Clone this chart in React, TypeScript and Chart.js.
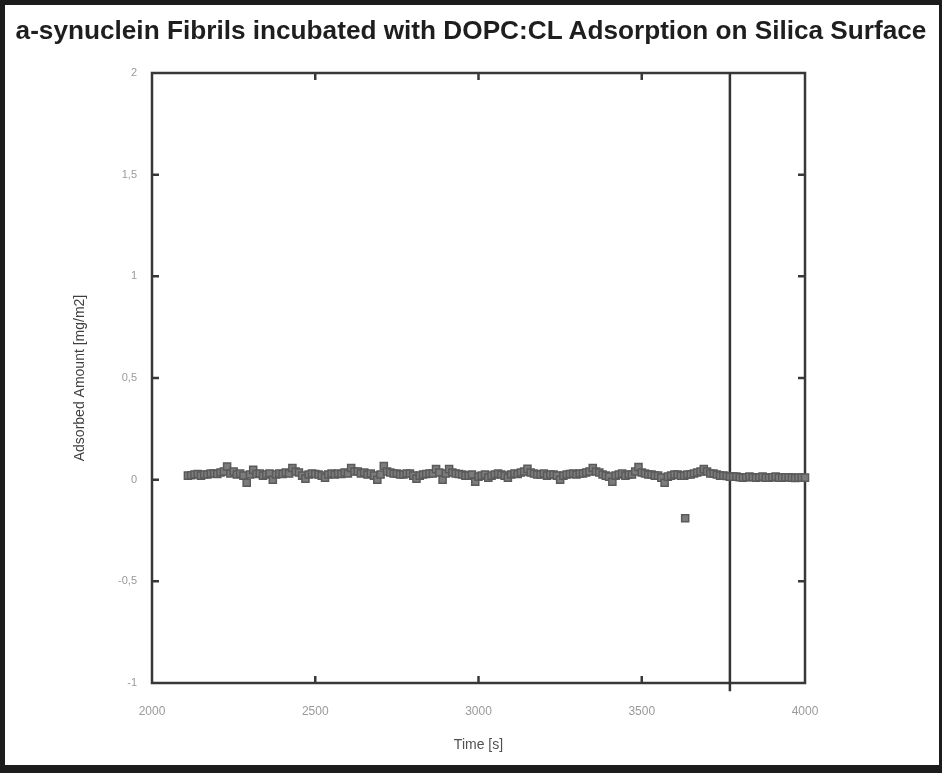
import React, { useEffect, useRef } from 'react';
import { Chart, registerables } from 'chart.js';

Chart.register(...registerables);

const FONT = '"Liberation Sans", Arial, Helvetica, sans-serif';

const chartTitle = 'a-synuclein Fibrils incubated with DOPC:CL Adsorption on Silica Surface';
const xAxisTitle = 'Time [s]';
const yAxisTitle = 'Adsorbed Amount [mg/m2]';

const xTickValues = [2000, 2500, 3000, 3500, 4000];
const xTickLabels = ['2000', '2500', '3000', '3500', '4000'];
const yTickValues = [-1, -0.5, 0, 0.5, 1, 1.5, 2];
const yTickLabels = ['-1', '-0,5', '0', '0,5', '1', '1,5', '2'];

const times = [
  2110, 2120, 2130, 2140, 2150, 2160, 2170, 2180, 2190, 2200,
  2210, 2220, 2230, 2240, 2250, 2260, 2270, 2280, 2290, 2300,
  2310, 2320, 2330, 2340, 2350, 2360, 2370, 2380, 2390, 2400,
  2410, 2420, 2430, 2440, 2450, 2460, 2470, 2480, 2490, 2500,
  2510, 2520, 2530, 2540, 2550, 2560, 2570, 2580, 2590, 2600,
  2610, 2620, 2630, 2640, 2650, 2660, 2670, 2680, 2690, 2700,
  2710, 2720, 2730, 2740, 2750, 2760, 2770, 2780, 2790, 2800,
  2810, 2820, 2830, 2840, 2850, 2860, 2870, 2880, 2890, 2900,
  2910, 2920, 2930, 2940, 2950, 2960, 2970, 2980, 2990, 3000,
  3010, 3020, 3030, 3040, 3050, 3060, 3070, 3080, 3090, 3100,
  3110, 3120, 3130, 3140, 3150, 3160, 3170, 3180, 3190, 3200,
  3210, 3220, 3230, 3240, 3250, 3260, 3270, 3280, 3290, 3300,
  3310, 3320, 3330, 3340, 3350, 3360, 3370, 3380, 3390, 3400,
  3410, 3420, 3430, 3440, 3450, 3460, 3470, 3480, 3490, 3500,
  3510, 3520, 3530, 3540, 3550, 3560, 3570, 3580, 3590, 3600,
  3610, 3620, 3630, 3640, 3650, 3660, 3670, 3680, 3690, 3700,
  3710, 3720, 3730, 3740, 3750, 3760, 3770, 3780, 3790, 3800,
  3810, 3820, 3830, 3840, 3850, 3860, 3870, 3880, 3890, 3900,
  3910, 3920, 3930, 3940, 3950, 3960, 3970, 3980, 3990, 4000,
  3633,
];

const adsorbed = [
  0.02, 0.022, 0.025, 0.028, 0.02, 0.025, 0.025, 0.03, 0.03, 0.028,
  0.035, 0.04, 0.065, 0.03, 0.04, 0.025, 0.03, 0.02, -0.015, 0.025,
  0.048, 0.028, 0.03, 0.02, 0.025, 0.03, 0.0, 0.025, 0.03, 0.028,
  0.035, 0.03, 0.057, 0.04, 0.035, 0.02, 0.005, 0.025, 0.03, 0.028,
  0.025, 0.02, 0.01, 0.025, 0.03, 0.025, 0.03, 0.028, 0.035, 0.03,
  0.057, 0.04, 0.04, 0.03, 0.035, 0.025, 0.03, 0.02, 0.0, 0.025,
  0.067, 0.04, 0.035, 0.03, 0.03, 0.025, 0.025, 0.03, 0.03, 0.02,
  0.005, 0.02, 0.025, 0.028, 0.03, 0.03, 0.052, 0.035, 0.0, 0.03,
  0.052, 0.035, 0.03, 0.028, 0.025, 0.02, 0.02, 0.025, -0.01, 0.015,
  0.02, 0.025, 0.01, 0.02, 0.025, 0.03, 0.025, 0.02, 0.01, 0.025,
  0.03, 0.028, 0.035, 0.04, 0.053, 0.035, 0.03, 0.025, 0.025, 0.03,
  0.02, 0.025, 0.025, 0.02, 0.0, 0.02, 0.025, 0.028, 0.03, 0.025,
  0.03, 0.03, 0.035, 0.04, 0.057, 0.04, 0.035, 0.025, 0.02, 0.015,
  -0.01, 0.02, 0.025, 0.03, 0.02, 0.025, 0.025, 0.04, 0.062, 0.035,
  0.03, 0.025, 0.025, 0.02, 0.02, 0.01, -0.015, 0.015, 0.02, 0.025,
  0.025, 0.02, 0.02, 0.025, 0.025, 0.03, 0.035, 0.04, 0.052, 0.04,
  0.03, 0.03, 0.025, 0.02, 0.02, 0.018, 0.015, 0.015, 0.015, 0.012,
  0.01, 0.012, 0.015, 0.012, 0.01, 0.012, 0.015, 0.01, 0.01, 0.012,
  0.015, 0.01, 0.01, 0.012, 0.012, 0.01, 0.008, 0.01, 0.01, 0.01,
  -0.19,
];

const markerTime = 3770;
const markerSpan = [-1.04, 2];

const framePlugin = {
  id: 'frameTicks',
  beforeDatasetsDraw(chart: any) {
    const { ctx, chartArea: a, scales } = chart;
    const L = 7;
    ctx.save();
    ctx.strokeStyle = '#383838';
    ctx.lineWidth = 2.5;
    ctx.lineCap = 'butt';
    ctx.strokeRect(a.left, a.top, a.right - a.left, a.bottom - a.top);
    ctx.beginPath();
    xTickValues.forEach((v) => {
      const px = scales.x.getPixelForValue(v);
      if (px > a.left + 2 && px < a.right - 2) {
        ctx.moveTo(px, a.bottom);
        ctx.lineTo(px, a.bottom - L);
        ctx.moveTo(px, a.top);
        ctx.lineTo(px, a.top + L);
      }
    });
    yTickValues.forEach((v) => {
      const py = scales.y.getPixelForValue(v);
      if (py > a.top + 2 && py < a.bottom - 2) {
        ctx.moveTo(a.left, py);
        ctx.lineTo(a.left + L, py);
        ctx.moveTo(a.right, py);
        ctx.lineTo(a.right - L, py);
      }
    });
    ctx.stroke();
    ctx.restore();
  },
};

export default function App() {
  const canvasRef = useRef<HTMLCanvasElement | null>(null);

  useEffect(() => {
    const canvas = canvasRef.current;
    if (!canvas) return;
    const points = times.map((t, i) => ({ x: t, y: adsorbed[i] }));
    const chart = new Chart(canvas, {
      type: 'scatter',
      data: {
        datasets: [
          {
            label: 'Adsorbed amount',
            data: points,
            pointStyle: 'rect',
            pointRadius: 5,
            pointBorderWidth: 1.5,
            pointBackgroundColor: '#7c7c7c',
            pointBorderColor: '#5a5a5a',
            showLine: false,
            clip: false,
          } as any,
          {
            type: 'line',
            label: 'marker',
            data: markerSpan.map((y) => ({ x: markerTime, y })),
            borderColor: '#333333',
            borderWidth: 2.5,
            pointRadius: 0,
            showLine: true,
            fill: false,
            clip: false,
          } as any,
        ],
      },
      options: {
        responsive: false,
        animation: false,
        events: [],
        layout: { padding: { top: 73, right: 137, bottom: 0, left: 0 } },
        plugins: {
          legend: { display: false },
          tooltip: { enabled: false },
          title: { display: false },
        },
        scales: {
          x: {
            type: 'linear',
            min: 2000,
            max: 4000,
            afterBuildTicks: (scale: any) => {
              scale.ticks = xTickValues.map((v) => ({ value: v }));
            },
            afterFit: (scale: any) => {
              scale.height = 90;
            },
            grid: { display: false, drawTicks: false },
            border: { display: false },
            ticks: {
              autoSkip: false,
              maxRotation: 0,
              padding: 21,
              color: '#9a9a9a',
              font: { family: FONT, size: 12 },
              callback: (value: any) => xTickLabels[xTickValues.indexOf(Number(value))],
            },
            title: {
              display: true,
              text: xAxisTitle,
              color: '#505050',
              font: { family: FONT, size: 14 },
              padding: { top: 0, bottom: 19 },
            },
          },
          y: {
            type: 'linear',
            min: -1,
            max: 2,
            afterBuildTicks: (scale: any) => {
              scale.ticks = yTickValues.map((v) => ({ value: v }));
            },
            afterFit: (scale: any) => {
              scale.width = 152;
            },
            grid: { display: false, drawTicks: false },
            border: { display: false },
            ticks: {
              autoSkip: false,
              padding: 15,
              color: '#9a9a9a',
              font: { family: FONT, size: 11 },
              callback: (value: any) => yTickLabels[yTickValues.indexOf(Number(value))],
            },
            title: {
              display: true,
              text: yAxisTitle,
              color: '#404040',
              font: { family: FONT, size: 14 },
              padding: { top: 72, bottom: 0 },
            },
          },
        },
      } as any,
      plugins: [framePlugin],
    });
    return () => chart.destroy();
  }, []);

  return (
    <div
      style={{
        position: 'fixed',
        left: 0,
        top: 0,
        width: 942,
        height: 773,
        background: '#ffffff',
        overflow: 'hidden',
      }}
    >
      <canvas
        ref={canvasRef}
        width={942}
        height={773}
        style={{ position: 'absolute', left: 0, top: 0, width: 942, height: 773 }}
      />
      <div
        style={{
          position: 'absolute',
          left: 0,
          top: 15,
          width: 942,
          textAlign: 'center',
          fontFamily: FONT,
          fontWeight: 'bold',
          fontSize: 26.2,
          lineHeight: '30px',
          color: '#1e1e1e',
          whiteSpace: 'nowrap',
        }}
      >
        {chartTitle}
      </div>
      <div
        style={{
          position: 'absolute',
          left: 0,
          top: 0,
          width: 942,
          height: 773,
          boxSizing: 'border-box',
          borderStyle: 'solid',
          borderColor: '#1c1c1c',
          borderWidth: '5px 3px 8px 5px',
          pointerEvents: 'none',
        }}
      />
    </div>
  );
}
